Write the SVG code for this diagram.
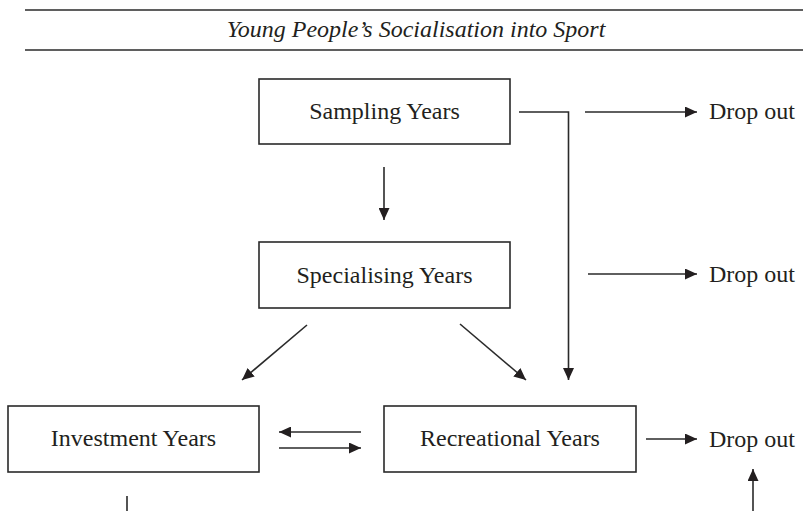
<svg xmlns="http://www.w3.org/2000/svg" width="803" height="511" viewBox="0 0 803 511">
  <style>
    .box { fill: #ffffff; stroke: #2a2a2a; stroke-width: 1.6; }
    .lbl { font-family: "Liberation Serif", "Times New Roman", serif; font-size: 24px; fill: #231f20; text-anchor: middle; }
    .drop { font-family: "Liberation Serif", "Times New Roman", serif; font-size: 24px; fill: #231f20; }
    .title { font-family: "Liberation Serif", "Times New Roman", serif; font-size: 24px; font-style: italic; fill: #231f20; text-anchor: middle; }
    .rule { stroke: #2a2a2a; stroke-width: 1.6; }
    .conn { fill: none; stroke: #2a2a2a; stroke-width: 1.6; }
    .arr { marker-end: url(#ah); }
  </style>
  <defs>
    <marker id="ah" viewBox="0 0 12 11" refX="12" refY="5.5" markerWidth="12" markerHeight="11" markerUnits="userSpaceOnUse" orient="auto">
      <path d="M0,0 L12,5.5 L0,11 z" fill="#231f20"/>
    </marker>
  </defs>
  <rect x="0" y="0" width="803" height="511" fill="#ffffff"/>

  <g id="header">
    <line class="rule" x1="25" y1="10" x2="803" y2="10"/>
    <line class="rule" x1="25" y1="50" x2="803" y2="50"/>
    <text class="title" x="416" y="37">Young People’s Socialisation into Sport</text>
  </g>

  <g id="sampling">
    <rect class="box" x="259" y="79" width="251" height="65"/>
    <text class="lbl" x="384.5" y="119">Sampling Years</text>
  </g>
  <g id="specialising">
    <rect class="box" x="259" y="242" width="251" height="66"/>
    <text class="lbl" x="384.5" y="283">Specialising Years</text>
  </g>
  <g id="investment">
    <rect class="box" x="8" y="406" width="251" height="66"/>
    <text class="lbl" x="133.5" y="446">Investment Years</text>
  </g>
  <g id="recreational">
    <rect class="box" x="384" y="406" width="252" height="66"/>
    <text class="lbl" x="510" y="446">Recreational Years</text>
  </g>
  <g id="dropout1">
    <text class="drop" x="709" y="119">Drop out</text>
  </g>
  <g id="dropout2">
    <text class="drop" x="709" y="282">Drop out</text>
  </g>
  <g id="dropout3">
    <text class="drop" x="709" y="447">Drop out</text>
  </g>

  <g id="connectors">
    <path class="conn arr" d="M384,167 L384,220"/>
    <path class="conn arr" d="M519,112 L568.5,112 L568.5,380"/>
    <path class="conn arr" d="M585,112 L697,112"/>
    <path class="conn arr" d="M588,274 L697,274"/>
    <path class="conn arr" d="M307,325 L242,380"/>
    <path class="conn arr" d="M460,324 L526,380"/>
    <path class="conn arr" d="M361,432 L279,432"/>
    <path class="conn arr" d="M279,448 L361,448"/>
    <path class="conn arr" d="M646,439 L697,439"/>
    <path class="conn arr" d="M753,511 L753,469"/>
    <path class="conn" d="M127,496 L127,511"/>
  </g>
</svg>
